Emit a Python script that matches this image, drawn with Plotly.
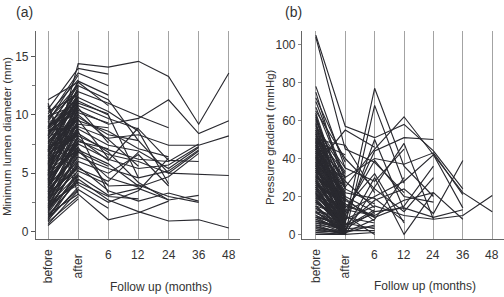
import plotly.graph_objects as go

categories = ["before", "after", "6", "12", "24", "36", "48"]

# ---------- (a) Minimum lumen diameter (mm) ----------
lumen_before = [4.8, 6.5, 5.2, 3.0, 2.0,
                3.8, 4.2, 5.8, 2.9, 6.9, 3.4, 7.7, 2.4, 1.8, 4.5,
                8.6, 5.5, 3.6, 6.0, 2.5, 7.2, 1.5,
                9.0, 4.0, 5.0, 6.8, 3.2, 8.2, 2.2,
                10.5, 9.8, 7.0, 11.3, 8.8, 6.2, 4.4, 3.9, 5.3, 2.7, 9.2, 1.2, 7.8, 5.9,
                0.5, 0.8, 1.0, 1.3, 1.6, 1.9, 2.1, 2.3, 2.6, 2.8, 3.1, 3.3, 3.5, 3.7, 4.0,
                4.1, 4.3, 4.6, 4.7, 4.9, 5.1, 5.3, 5.4, 5.6, 5.7, 5.9, 6.1, 6.3, 6.4, 6.6,
                6.7, 6.9, 7.1, 7.3, 7.4, 7.6, 7.9, 8.1, 8.3, 8.5, 8.7, 8.9, 9.1, 9.3, 9.6,
                9.9, 10.1, 10.3, 10.8, 11.0,
                0.6, 0.9, 1.1, 1.4, 1.7, 2.0, 2.2, 2.4, 2.7, 2.9, 3.2, 3.4, 3.6, 3.8,
                4.2, 4.4, 4.5, 4.8, 5.0, 5.2, 5.5, 5.8, 6.0, 6.2, 6.5, 6.8, 7.0, 7.2,
                7.5, 7.7, 8.0, 8.2, 8.4, 8.6, 8.8, 9.0, 9.4, 9.7, 10.0, 10.4]
lumen_after = [14.4, 10.4, 9.0, 7.8, 4.5,
               8.2, 7.5, 8.8, 6.4, 9.8, 6.9, 10.8, 5.6, 4.8, 7.2,
               12.0, 9.5, 6.0, 8.4, 4.0, 11.5, 3.2,
               12.5, 8.0, 7.0, 10.0, 5.4, 11.2, 4.2,
               14.0, 13.6, 12.9, 12.8, 11.0, 9.2, 7.7, 6.8, 10.2, 5.2, 10.6, 3.6, 9.6, 8.6,
               2.8, 3.0, 3.8, 4.4, 5.0, 5.8, 6.6, 4.9, 7.3, 6.2, 8.1, 5.5, 7.0, 9.0, 6.4,
               8.5, 10.5, 7.6, 9.4, 11.4, 8.0, 6.9, 10.1, 9.2, 11.1, 8.7, 7.4, 10.8, 9.7,
               11.6, 8.3, 10.3, 9.1, 11.2, 7.9, 10.0, 11.8, 9.5, 12.2, 10.6, 8.9, 11.5, 10.2,
               11.3, 12.6, 10.9, 13.0, 11.7,
               3.2, 4.0, 3.5, 4.7, 5.3, 4.4, 6.0, 5.7, 6.8, 7.6, 5.9, 8.3, 7.1, 9.6,
               6.7, 8.8, 10.7, 7.8, 9.9, 8.6, 11.0, 9.3, 7.2, 10.4, 11.9, 8.5, 9.8, 12.4,
               10.6, 8.2, 11.3, 9.0, 10.9, 12.1, 11.6, 10.3, 12.8, 11.1, 13.4, 12.0]
lumen_6m = [14.1, 9.2, 8.0, 6.6, 2.7,
            7.0, 6.2, 7.4, 5.4, 8.3, 4.6, 9.7, 3.5, 3.1, 3.9,
            11.0, 8.6, 5.0, 6.8, 2.5, 10.3, 1.0,
            11.3, 6.1, 5.8, 7.9, 4.3, 10.0, 3.0,
            13.5, 12.5, 11.7, 10.8, 10.1, 8.9, 7.1, 5.6, 9.3, 4.0, 7.6, 2.0, 6.3, 3.3]
lumen_12m = [14.6, 9.7, 8.3, 6.0, 1.7,
             6.2, 5.4, 6.9, 4.6, 7.8, 3.8, 8.8, 2.6, 3.7, 4.0,
             9.9, 7.1, 6.6, 4.2, 3.5, 8.6, 1.6,
             7.8, 8.9, 3.9, 5.6, 6.8, 4.6, 2.8]
lumen_24m = [13.3, 11.3, 7.4, 5.0, 0.9,
             6.0, 5.7, 5.4, 5.2, 5.0, 4.7, 6.1, 3.3, 2.7, 3.0,
             8.9, 6.4, 3.9, 2.7, 6.3, 4.1, 2.6]
lumen_36m = [9.2, 8.4, 7.4, 4.9, 1.0,
             7.5, 7.3, 7.2, 7.0, 6.9, 6.7, 6.0, 2.6, 3.1, 2.5]
lumen_48m = [13.6, 9.5, 8.2, 4.8, 0.3]

# ---------- (b) Pressure gradient (mmHg) ----------
grad_before = [45, 38,
               105, 60, 30, 42, 28, 70,
               50, 35, 25, 48, 22, 40, 65,
               104, 33, 20, 52, 78, 15, 43,
               75, 63, 50, 36, 30, 58, 47, 26, 18, 40, 55, 12, 34, 27, 44, 21, 9,
               0, 1, 2, 3, 4, 5, 6, 7, 8, 9, 10, 11, 12, 13, 14, 15, 16, 17, 18, 19,
               20, 21, 22, 23, 24, 25, 26, 27, 28, 29, 30, 31, 32, 33, 34, 35, 36, 37,
               38, 39, 40, 41, 42, 43, 44, 45, 46, 47, 48, 49, 50, 51, 52, 53, 55, 57,
               2, 5, 8, 12, 17, 23, 31, 36, 41, 46, 53, 62,
               0, 1, 3, 4, 6, 7, 9, 10, 12, 14, 15, 17, 19, 21, 22, 24, 26, 28, 29, 31,
               33, 35, 37, 39, 41, 43, 45, 47, 49, 51, 54, 56, 59, 61, 64, 67, 72, 49, 38, 25]
grad_after = [12, 8,
              57, 25, 5, 15, 3, 30,
              10, 6, 2, 18, 0, 12, 40,
              45, 0, 7, 22, 35, 1, 14,
              24, 10, 47, 55, 20, 5, 3, 16, 2, 9, 28, 0, 13, 6, 19, 4, 1,
              0, 0, 1, 2, 0, 3, 1, 4, 2, 5, 3, 6, 1, 8, 4, 2, 10, 7, 3, 12,
              5, 9, 0, 14, 6, 11, 2, 16, 8, 4, 18, 13, 7, 20, 10, 15, 5, 22,
              12, 9, 25, 17, 11, 28, 6, 21, 14, 30, 19, 8, 24, 16, 32, 26, 18, 35,
              1, 0, 3, 2, 6, 4, 9, 12, 15, 7, 20, 11,
              0, 2, 0, 1, 4, 2, 6, 3, 8, 0, 10, 5, 2, 13, 7, 1, 15, 9, 3, 18,
              6, 11, 4, 23, 14, 8, 27, 16, 10, 20, 5, 33, 12, 24, 17, 29, 38, 42, 2, 0]
grad_6m = [20, 15,
           51, 45, 18, 10, 12, 40,
           44, 77, 30, 9, 25, 39, 24,
           38, 68, 50, 19, 28, 8, 32,
           16, 0, 22, 46, 12, 11, 4, 9, 2, 6, 14, 1, 10, 3, 7, 13, 5]
grad_12m = [28, 10,
            58, 62, 24, 18, 14, 37,
            51, 36, 0, 15, 48, 20, 12,
            22, 27, 13, 7, 45, 30, 6]
grad_24m = [42, 8,
            44, 42, 11, 22, 9, 43,
            50, 20, 22, 36, 8, 17, 30]
grad_36m = [22, 10,
            24, 14, 39, 8, 13, 21]
grad_48m = [12, 20.5]


def build_xy(cols):
    xs, ys = [], []
    n = len(cols[0])
    for i in range(n):
        for j, col in enumerate(cols):
            if i < len(col) and col[i] is not None:
                xs.append(j)
                ys.append(col[i])
        xs.append(None)
        ys.append(None)
    return xs, ys


line_color = "#2a2a30"
fig = go.Figure()

xa, ya = build_xy([lumen_before, lumen_after, lumen_6m, lumen_12m, lumen_24m, lumen_36m, lumen_48m])
fig.add_trace(go.Scatter(x=xa, y=ya, mode="lines", line=dict(color=line_color, width=1.15),
                         xaxis="x", yaxis="y", showlegend=False, hoverinfo="skip"))
xb, yb = build_xy([grad_before, grad_after, grad_6m, grad_12m, grad_24m, grad_36m, grad_48m])
fig.add_trace(go.Scatter(x=xb, y=yb, mode="lines", line=dict(color=line_color, width=1.15),
                         xaxis="x2", yaxis="y2", showlegend=False, hoverinfo="skip"))

W, H = 504, 297
y_dom = [1 - 241 / H, 1 - 31 / H]
font_family = "Liberation Sans, Arial, sans-serif"
tick_font = dict(family=font_family, size=12, color="#333")
axis_line = "#666"
grid_col = "#a3a3a3"

xcommon = dict(tickvals=list(range(7)), showticklabels=False, ticks="", showgrid=True,
               gridcolor=grid_col, gridwidth=1.4, showline=True, linecolor=axis_line,
               linewidth=1.2, zeroline=False)

fig.update_layout(
    width=W, height=H, margin=dict(l=0, r=0, t=0, b=0),
    plot_bgcolor="white", paper_bgcolor="white",
    xaxis=dict(domain=[36 / W, 240 / W], range=[-0.4, 6.37], anchor="y", **xcommon),
    xaxis2=dict(domain=[302 / W, 1.0], range=[-0.47, 6.4], anchor="y2", **xcommon),
    yaxis=dict(domain=y_dom, range=[-0.68, 17.22], anchor="x", tickvals=[0, 5, 10, 15],
               ticks="outside", ticklen=4, tickcolor="#555", showgrid=False, zeroline=False,
               showline=True, linecolor=axis_line, linewidth=1.2, tickfont=tick_font,
               minor=dict(tickvals=[2.5, 7.5, 12.5], ticks="outside", ticklen=3, tickcolor="#777")),
    yaxis2=dict(domain=y_dom, range=[-2.6, 107.3], anchor="x2", tickvals=[0, 20, 40, 60, 80, 100],
                ticks="outside", ticklen=3, tickcolor="#888", showgrid=False, zeroline=False,
                showline=True, linecolor=axis_line, linewidth=1.2, tickfont=tick_font),
)

ann = []
for xref in ["x", "x2"]:
    for i, c in enumerate(categories):
        if i < 2:
            ann.append(dict(x=i, y=1 - 268 / H, xref=xref, yref="paper", text=c, textangle=-90,
                            showarrow=False, font=tick_font, xanchor="center", yanchor="middle"))
        else:
            ann.append(dict(x=i, y=1 - 257 / H, xref=xref, yref="paper", text=c,
                            showarrow=False, font=tick_font, xanchor="center", yanchor="middle"))

title_font = dict(family=font_family, size=12, color="#333")
ann += [
    dict(x=161 / W, y=1 - 289 / H, xref="paper", yref="paper", text="Follow up (months)",
         showarrow=False, font=title_font, xanchor="center", yanchor="middle"),
    dict(x=425 / W, y=1 - 288 / H, xref="paper", yref="paper", text="Follow up (months)",
         showarrow=False, font=title_font, xanchor="center", yanchor="middle"),
    dict(x=7 / W, y=1 - 138 / H, xref="paper", yref="paper", text="Minimum lumen diameter (mm)",
         textangle=-90, showarrow=False, font=dict(family=font_family, size=11.5, color="#333"),
         xanchor="center", yanchor="middle"),
    dict(x=270 / W, y=1 - 138 / H, xref="paper", yref="paper", text="Pressure gradient (mmHg)",
         textangle=-90, showarrow=False, font=dict(family=font_family, size=11.5, color="#333"),
         xanchor="center", yanchor="middle"),
    dict(x=24 / W, y=1 - 12 / H, xref="paper", yref="paper", text="(a)",
         showarrow=False, font=dict(family=font_family, size=14, color="#333"),
         xanchor="center", yanchor="middle"),
    dict(x=293 / W, y=1 - 12 / H, xref="paper", yref="paper", text="(b)",
         showarrow=False, font=dict(family=font_family, size=14, color="#333"),
         xanchor="center", yanchor="middle"),
]
fig.update_layout(annotations=ann)

fig.write_html("out.html")
